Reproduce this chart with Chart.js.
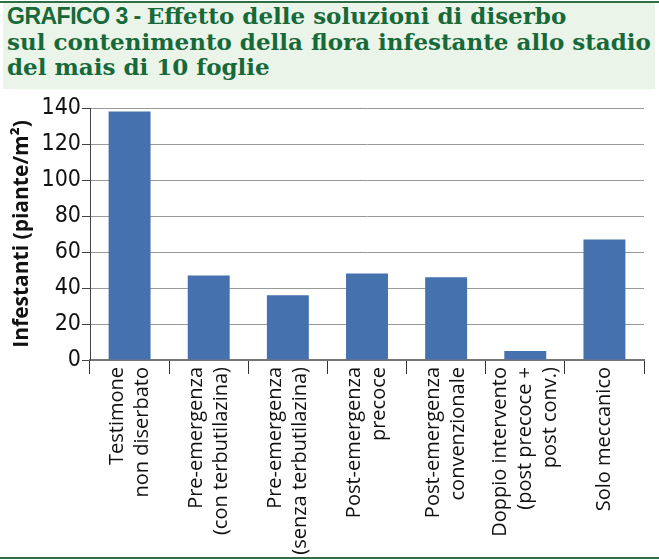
<!DOCTYPE html>
<html lang="it">
<head>
<meta charset="utf-8">
<script src="https://cdn.jsdelivr.net/npm/chart.js@4.4.1/dist/chart.umd.min.js"></script>
<style>
  html, body { margin: 0; padding: 0; background: #fff; }
  body { width: 659px; height: 560px; position: relative; overflow: hidden; }
  #riga-alto { position: absolute; left: 0; top: 1px; width: 659px; height: 2px; background: #2e6f45; }
  #testata { position: absolute; left: 3px; top: 3px; width: 652px; height: 86px; background: #eaf4e8; }
  #testata h1 {
    margin: 0; position: absolute; left: 4px; top: 0;
    font: bold 23px/25px 'DejaVu Serif', serif;
    color: #17693a; white-space: nowrap;
  }
  #testata h1 .g { font-family: 'Liberation Sans', Arial, sans-serif; font-size: 23px; letter-spacing: -0.5px; }
  #grafico { position: absolute; left: 0; top: 90px; }
  #riga-basso { position: absolute; left: 0; top: 557px; width: 659px; height: 2px; background: #2e6f45; }
</style>
</head>
<body>
<div id="riga-alto"></div>
<div id="testata">
  <h1><span class="g">GRAFICO 3 - </span>Effetto delle soluzioni di diserbo<br>sul contenimento della flora infestante allo stadio<br>del mais di 10 foglie</h1>
</div>
<canvas id="grafico" width="659" height="466"></canvas>
<div id="riga-basso"></div>
<script>
const categorie = [
  ['Testimone', 'non diserbato'],
  ['Pre-emergenza', '(con terbutilazina)'],
  ['Pre-emergenza', '(senza terbutilazina)'],
  ['Post-emergenza', 'precoce'],
  ['Post-emergenza', 'convenzionale'],
  ['Doppio intervento', '(post precoce +', 'post conv.)'],
  ['Solo meccanico']
];
const infestanti = [138, 47, 36, 48, 46, 5, 67];
const tickY = [0, 20, 40, 60, 80, 100, 120, 140];

// etichette ruotate, centrate sul gruppo di righe
const etichetteX = {
  id: 'etichetteX',
  afterDraw(chart) {
    const x = chart.scales.x;
    const ctx = chart.ctx;
    const lh = 25;
    ctx.save();
    ctx.font = '20px "Open Sans", sans-serif';
    ctx.fillStyle = '#111';
    ctx.textAlign = 'right';
    ctx.textBaseline = 'middle';
    categorie.forEach((righe, i) => {
      const cx = x.getPixelForValue(i);
      righe.forEach((t, j) => {
        ctx.save();
        ctx.translate(cx + (j - (righe.length - 1) / 2) * lh, x.top + 7);
        ctx.rotate(-Math.PI / 2);
        ctx.fillText(t, 0, 0);
        ctx.restore();
      });
    });
    ctx.restore();
  }
};

new Chart(document.getElementById('grafico'), {
  type: 'bar',
  data: {
    labels: categorie,
    datasets: [{
      data: infestanti,
      backgroundColor: '#4571ae',
      barPercentage: 0.53,
      categoryPercentage: 1
    }]
  },
  options: {
    responsive: false,
    animation: false,
    layout: { padding: { top: 18, right: 15, left: 0, bottom: 0 } },
    plugins: { legend: { display: false }, tooltip: { enabled: false } },
    scales: {
      x: {
        ticks: { display: false },
        grid: { offset: true, drawOnChartArea: false, tickLength: 14, color: '#333' },
        border: { color: '#777', width: 2 },
        afterFit: s => { s.height = 196; }
      },
      y: {
        min: 0,
        max: 140,
        afterBuildTicks: s => { s.ticks = tickY.map(v => ({ value: v })); },
        ticks: {
          padding: 1,
          color: '#111',
          font: { family: "'DejaVu Sans Condensed', sans-serif", size: 23 }
        },
        grid: { color: '#999', tickColor: '#444', tickLength: 8 },
        border: { color: '#444', width: 1 },
        title: {
          display: true,
          text: 'Infestanti (piante/m²)',
          color: '#111',
          padding: { top: 9 },
          font: { family: "'Open Sans', sans-serif", size: 21, weight: 'bold' }
        },
        afterFit: s => { s.width = 90; }
      }
    }
  },
  plugins: [etichetteX]
});
</script>
</body>
</html>
